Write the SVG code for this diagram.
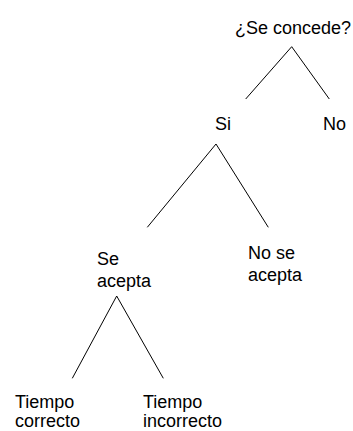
<svg xmlns="http://www.w3.org/2000/svg" width="353" height="431" viewBox="0 0 353 431">
<style>
text{font-family:"Liberation Sans",Arial,sans-serif;font-size:18px;fill:#000}
.c line{stroke:#000;stroke-width:1}
</style>
<rect width="353" height="431" fill="#fff"/>
<g class="c" id="connectors">
<line x1="291.7" y1="46.7" x2="245.7" y2="99"/>
<line x1="291.7" y1="46.7" x2="329.3" y2="99"/>
<line x1="216" y1="144" x2="147.3" y2="227.3"/>
<line x1="216" y1="144" x2="268.3" y2="227.3"/>
<line x1="116.7" y1="296" x2="72.3" y2="378.3"/>
<line x1="116.7" y1="296" x2="163.3" y2="378.3"/>
</g>
<g id="root"><text x="235" y="34">¿Se concede?</text></g>
<g id="si"><text x="215" y="130">Si</text></g>
<g id="no"><text x="323" y="130">No</text></g>
<g id="se-acepta"><text x="97" y="265">Se</text><text x="97" y="287">acepta</text></g>
<g id="no-se-acepta"><text x="248" y="259">No se</text><text x="248" y="281">acepta</text></g>
<g id="tiempo-correcto"><text x="15" y="408">Tiempo</text><text x="15" y="427">correcto</text></g>
<g id="tiempo-incorrecto"><text x="143" y="408">Tiempo</text><text x="143" y="427">incorrecto</text></g>
</svg>
